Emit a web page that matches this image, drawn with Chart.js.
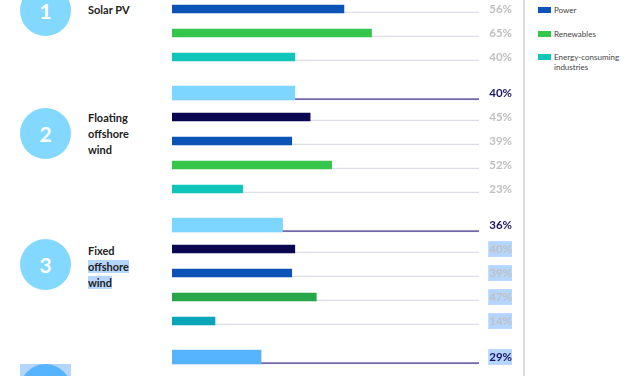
<!DOCTYPE html>
<html>
<head>
<meta charset="utf-8">
<script src="https://cdn.jsdelivr.net/npm/chart.js@4.4.1/dist/chart.umd.min.js"></script>
<style>
  html, body { margin: 0; padding: 0; background: #fff; }
  body { width: 627px; height: 376px; overflow: hidden; position: relative; font-family: Lato, "Open Sans", sans-serif; }
  .grp { position: absolute; left: 172px; width: 340px; height: 120px; }
  .circle { position: absolute; left: 20px; width: 51px; height: 51px; border-radius: 50%; background: #82d8ff;
            color: #fff; font: bold 21px Lato, sans-serif; display: flex; align-items: center; justify-content: center; }
  .hl-box { position: absolute; left: 20px; width: 51px; background: #b4d5fe; }
  .name { position: absolute; left: 88px; font: bold 11px/16px Lato, sans-serif; color: #222; }
  .name span.sel { background: #b4d5fe; }
  .sep { position: absolute; left: 523px; top: 0; width: 1.5px; height: 376px; background: #dcdcdc; }
  .legend { position: absolute; left: 538px; top: -42px; width: 85px; }
  .legend .item { position: relative; height: 23.5px; }
  .legend .sw { position: absolute; left: 0; top: 2px; width: 13px; height: 6px; }
  .legend .tx { position: absolute; left: 16px; top: 0; font: 8px/10px Lato, sans-serif; color: #444; }
</style>
</head>
<body>
<div class="sep"></div>
<div class="legend" id="legend"></div>
<script>
// groups (technologies) and the rows inside each group
const groupNames = ['Solar PV', 'Floating\noffshore\nwind', 'Fixed\noffshore\nwind', ''];
const seriesNames = ['All respondents', 'Oil and gas', 'Power', 'Renewables', 'Energy-consuming industries'];

// share of respondents, % (null = row outside the visible crop)
const allRespondents = [null, 40, 36, 29];
const oilAndGas      = [null, 45, 40, null];
const power          = [56, 39, 39, null];
const renewables     = [65, 52, 47, null];
const industries     = [40, 23, 14, null];

const seriesColors = ['#7dd6ff', '#0b0650', '#0b53b6', '#36c64b', '#10c6bb'];
// darker tint where the page text was selected in the screenshot
const selectedColors = ['#56b4ff', '#0b0650', '#0848ad', '#27a64a', '#0aa4b9'];
const selectedRows = { 2: [1, 2, 3, 4], 3: [0] };
const selectedBars = { 2: [3, 4], 3: [0] };

// layout of each group block
const groupTop = [-51, 81, 213, 345];
const circleTop = [-15.5, 108, 238.5, 363.5];
const nameTop = [2, 110, 243, 370];

// legend
const legend = document.getElementById('legend');
seriesNames.forEach((name, i) => {
  const item = document.createElement('div');
  item.className = 'item';
  item.innerHTML = '<div class="sw" style="background:' + seriesColors[i] + '"></div>' +
    '<div class="tx">' + name.replace('consuming ', 'consuming<br>') + '</div>';
  legend.appendChild(item);
});

function makeGroup(g) {
  const values = [allRespondents[g], oilAndGas[g], power[g], renewables[g], industries[g]];
  const selBars = selectedBars[g] || [];
  const selRows = selectedRows[g] || [];

  // circle with number
  if (g === 3) {
    const box = document.createElement('div');
    box.className = 'hl-box';
    box.style.top = circleTop[g] + 'px';
    box.style.height = '20px';
    document.body.appendChild(box);
  }
  const circle = document.createElement('div');
  circle.className = 'circle';
  circle.style.top = circleTop[g] + 'px';
  if (g === 3) circle.style.background = '#56b4ff';
  circle.textContent = g + 1;
  document.body.appendChild(circle);

  // technology name
  const nm = document.createElement('div');
  nm.className = 'name';
  nm.style.top = nameTop[g] + 'px';
  nm.innerHTML = groupNames[g].split('\n').map((line, i) =>
    (g === 2 && i > 0) ? '<span class="sel">' + line + '</span>' : line).join('<br>');
  document.body.appendChild(nm);

  const wrap = document.createElement('div');
  wrap.className = 'grp';
  wrap.style.top = groupTop[g] + 'px';
  const canvas = document.createElement('canvas');
  canvas.width = 340;
  canvas.height = 120;
  wrap.appendChild(canvas);
  document.body.appendChild(wrap);

  const barColors = values.map((v, i) => selBars.includes(i) ? selectedColors[i] : seriesColors[i]);

  new Chart(canvas, {
    type: 'bar',
    data: {
      labels: seriesNames,
      datasets: [
        {
          label: 'total',
          data: values.map((v, i) => i === 0 ? v : null),
          backgroundColor: barColors,
          maxBarThickness: 14,
          order: 0
        },
        {
          label: 'sectors',
          data: values.map((v, i) => i > 0 ? v : null),
          backgroundColor: barColors,
          maxBarThickness: 8,
          order: 0
        },
        {
          label: 'track total',
          data: values.map((v, i) => i === 0 ? 100 : null),
          backgroundColor: 'transparent',
          borderColor: '#7468ab',
          borderWidth: { top: 0, left: 0, right: 0, bottom: 1.3 },
          borderSkipped: false,
          maxBarThickness: 14,
          order: 1
        },
        {
          label: 'track',
          data: values.map((v, i) => i > 0 ? 100 : null),
          backgroundColor: 'transparent',
          borderColor: '#dedee6',
          borderWidth: { top: 0, left: 0, right: 0, bottom: 1 },
          borderSkipped: false,
          maxBarThickness: 8,
          order: 1
        }
      ]
    },
    options: {
      indexAxis: 'y',
      responsive: false,
      animation: false,
      layout: { padding: 0 },
      datasets: { bar: { grouped: false, barPercentage: 1, categoryPercentage: 1 } },
      plugins: { legend: { display: false }, tooltip: { enabled: false } },
      scales: {
        x: { display: false, min: 0, max: 100 },
        y: {
          position: 'right',
          grid: { display: false, drawTicks: false },
          border: { display: false },
          afterFit: (scale) => {
            // fixed axis width and no label overhang above/below the rows
            scale.width = 33;
            scale.paddingTop = 0;
            scale.paddingBottom = 0;
          },
          ticks: {
            autoSkip: false,
            padding: 1,
            crossAlign: 'far',
            font: { family: 'Lato', size: 11.5, weight: 'bold' },
            color: (ctx) => ctx.index === 0 ? '#1d1763' : '#c0c0c0',
            callback: (v, i) => values[i] == null ? '' : values[i] + '%',
            showLabelBackdrop: true,
            backdropPadding: 1,
            backdropColor: (ctx) => selRows.includes(ctx.index) ? '#b4d5fe' : 'rgba(0,0,0,0)'
          }
        }
      }
    }
  });
}

[0, 1, 2, 3].forEach(makeGroup);
</script>
</body>
</html>
